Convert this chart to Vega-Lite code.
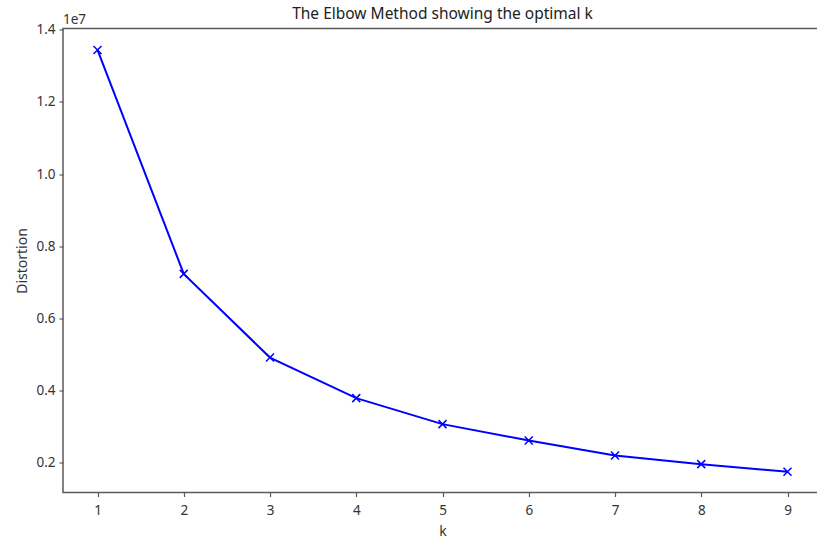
{
  "$schema": "https://vega.github.io/schema/vega-lite/v6.json",
  "autosize": "none",
  "padding": {"left": 63, "top": 28.5, "right": 0, "bottom": 45.5},
  "width": 759,
  "height": 464,
  "background": "white",
  "view": {"stroke": "#5a5a5a", "strokeWidth": 1.5},
  "title": {
    "text": "The Elbow Method showing the optimal k",
    "font": "Noto Sans",
    "fontSize": 15.5,
    "fontWeight": "normal",
    "color": "#222222",
    "anchor": "middle",
    "offset": -10
  },
  "data": {
    "values": [
      {"k": 1, "distortion": 13438000},
      {"k": 2, "distortion": 7233000},
      {"k": 3, "distortion": 4914000},
      {"k": 4, "distortion": 3790000},
      {"k": 5, "distortion": 3069000},
      {"k": 6, "distortion": 2615000},
      {"k": 7, "distortion": 2200000},
      {"k": 8, "distortion": 1961000},
      {"k": 9, "distortion": 1748000}
    ]
  },
  "encoding": {
    "x": {
      "field": "k",
      "type": "quantitative",
      "scale": {"domain": [0.6, 9.4], "nice": false, "zero": false},
      "axis": {
        "title": "k",
        "values": [1, 2, 3, 4, 5, 6, 7, 8, 9],
        "format": "d",
        "grid": false,
        "domain": false,
        "tickSize": 4,
        "tickColor": "#5a5a5a",
        "tickWidth": 1.2,
        "labelFont": "Noto Sans",
        "labelFontSize": 13.5,
        "labelColor": "#333333",
        "labelPadding": 7,
        "titleFont": "Noto Sans",
        "titleFontSize": 14,
        "titleFontWeight": "normal",
        "titleColor": "#333333",
        "titlePadding": 7
      }
    },
    "y": {
      "field": "distortion",
      "type": "quantitative",
      "scale": {"domain": [1175000, 14033000], "nice": false, "zero": false},
      "axis": {
        "title": "Distortion",
        "values": [2000000, 4000000, 6000000, 8000000, 10000000, 12000000, 14000000],
        "labelExpr": "format(datum.value / 10000000, '.1f')",
        "grid": false,
        "domain": false,
        "tickSize": 4,
        "tickColor": "#5a5a5a",
        "tickWidth": 1.2,
        "labelFont": "Noto Sans",
        "labelFontSize": 13.5,
        "labelColor": "#333333",
        "labelPadding": 4,
        "titleFont": "Noto Sans",
        "titleFontSize": 14,
        "titleFontWeight": "normal",
        "titleColor": "#333333",
        "titlePadding": 6
      }
    }
  },
  "layer": [
    {
      "mark": {"type": "line", "color": "#0000ff", "strokeWidth": 2}
    },
    {
      "mark": {
        "type": "point",
        "shape": "M-1,-1L1,1M-1,1L1,-1",
        "filled": false,
        "stroke": "#0000ff",
        "strokeWidth": 1.5,
        "size": 64,
        "opacity": 1
      }
    },
    {
      "data": {"values": [{"label": "1e7", "x": 0.6, "y": 14033000}]},
      "mark": {
        "type": "text",
        "align": "left",
        "baseline": "bottom",
        "dy": -2,
        "font": "Noto Sans",
        "fontSize": 13.5,
        "color": "#333333"
      },
      "encoding": {
        "x": {"field": "x", "type": "quantitative"},
        "y": {"field": "y", "type": "quantitative"},
        "text": {"field": "label"}
      }
    }
  ]
}
